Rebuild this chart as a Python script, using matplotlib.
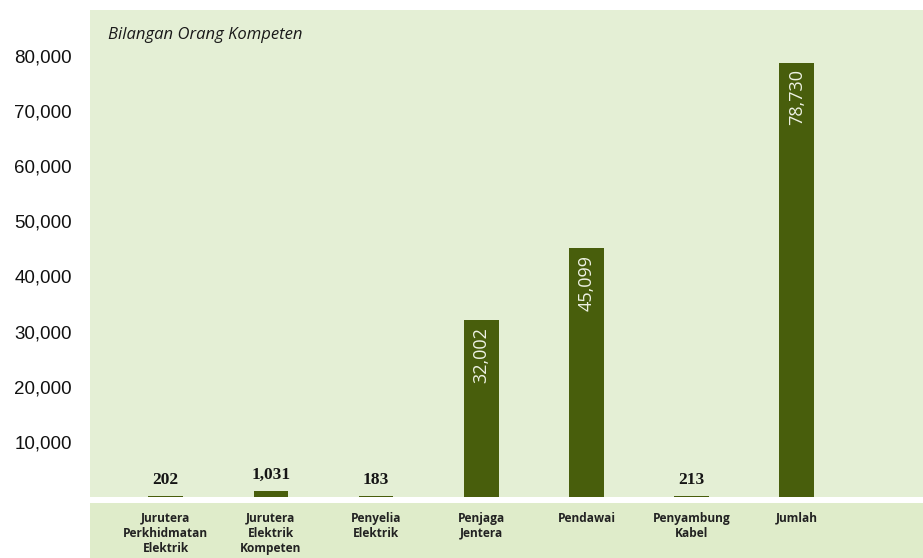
import numpy as np
import matplotlib.pyplot as plt

kategori = ["Jurutera\nPerkhidmatan\nElektrik", "Jurutera\nElektrik\nKompeten",
            "Penyelia\nElektrik", "Penjaga\nJentera", "Pendawai",
            "Penyambung\nKabel", "Jumlah"]
bilangan = [202, 1031, 183, 32002, 45099, 213, 78730]
label_nilai = ["202", "1,031", "183", "32,002", "45,099", "213", "78,730"]
yticks = [10000, 20000, 30000, 40000, 50000, 60000, 70000, 80000]

hijau = "#485e0c"
latar = "#e4efd5"
latar_bawah = "#dfecca"

fig = plt.figure(figsize=(9.23, 5.58), dpi=100)
ax = fig.add_axes([90/923, 61/558, 833/923, 487/558])
ax.set_facecolor(latar)

x = np.arange(len(bilangan))
bars = ax.bar(x, bilangan, width=0.33, color=hijau)
ax.set_xlim(-0.72, 7.2)
ax.set_ylim(0, 88300)

ax.set_yticks(yticks)
ax.set_yticklabels(["{:,}".format(v) for v in yticks], fontsize=13.5,
                   family="Liberation Sans", color="#111111")
ax.tick_params(axis="y", length=0, pad=13)
ax.set_xticks([])
for s in ax.spines.values():
    s.set_visible(False)

# nilai di atas bar kecil, di dalam bar besar
for xi, v, t in zip(x, bilangan, label_nilai):
    if v > 10000:
        ax.text(xi, v - 1200, t, rotation=90, ha="center", va="top",
                color="#eef2e4", fontsize=13, family="Open Sans")
    else:
        ax.text(xi, v + 1500, t, ha="center", va="bottom", color="#151515",
                fontsize=12.5, family="Liberation Serif", fontweight="semibold")

ax.text(0.022, 0.965, "Bilangan Orang Kompeten", transform=ax.transAxes,
        ha="left", va="top", fontsize=12, style="italic",
        family="Open Sans", color="#1a1a1a")

# jalur label kategori di bawah
ax2 = fig.add_axes([90/923, 0, 833/923, 55/558])
ax2.set_facecolor(latar_bawah)
ax2.set_xlim(ax.get_xlim())
ax2.set_ylim(0, 1)
ax2.set_xticks([])
ax2.set_yticks([])
for s in ax2.spines.values():
    s.set_visible(False)
for xi, k in zip(x, kategori):
    ax2.text(xi, 0.84, k, ha="center", va="top", fontsize=8.6,
             fontweight="bold", family="Open Sans", color="#222222",
             linespacing=1.2)

fig.savefig("out.png", dpi=100)
